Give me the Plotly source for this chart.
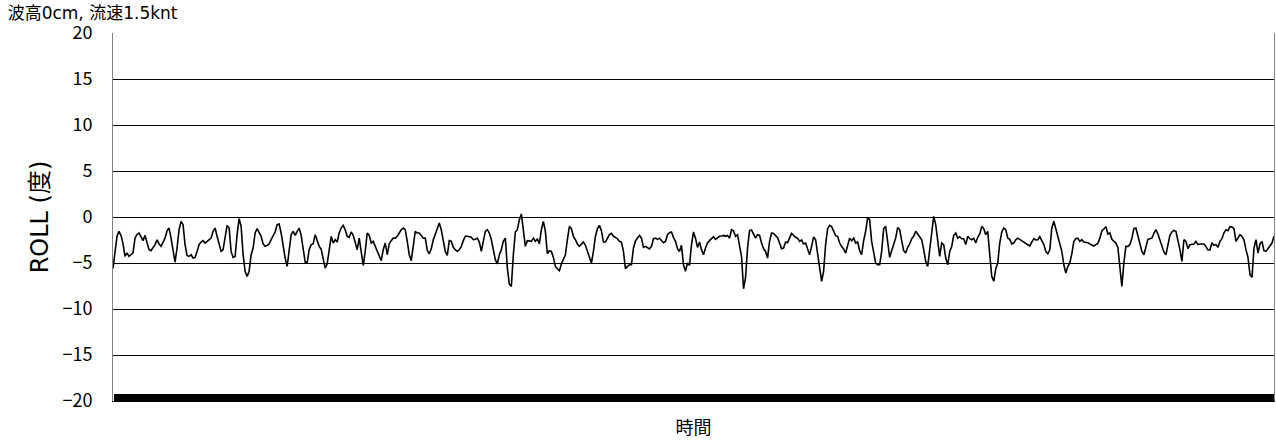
import plotly.graph_objects as go

title_text = "波高0cm, 流速1.5knt"
y_title = "ROLL (度)"
x_title = "時間"
y_tick_vals = [20, 15, 10, 5, 0, -5, -10, -15, -20]
y_tick_text = ["20", "15", "10", "5", "0", "−5", "−10", "−15", "−20"]

roll = [
    -5.6, -4.1, -2.1, -1.56, -2.0, -2.9, -4.28, -3.9, -4.28, -4.1,
    -3.9, -2.3, -1.9, -1.74, -2.1, -2.57, -2.0, -2.83, -3.55, -3.66,
    -3.37, -3.0, -2.47, -2.93, -3.19, -2.72, -2.3, -1.5, -1.2, -2.3,
    -3.9, -4.9, -3.37, -1.38, -0.47, -0.83, -3.0, -4.17, -4.28, -4.1,
    -4.46, -4.39, -3.74, -3.0, -2.72, -2.57, -2.83, -2.65, -2.57, -2.3,
    -1.56, -1.2, -2.1, -2.83, -3.74, -3.55, -1.92, -0.91, -1.2, -3.74,
    -4.39, -4.28, -1.92, -0.18, -1.0, -4.1, -5.9, -6.45, -5.9, -4.1,
    -3.37, -1.74, -1.27, -1.63, -2.1, -2.93, -3.19, -3.08, -2.93, -2.47,
    -2.1, -1.63, -0.83, -0.76, -1.74, -3.19, -4.46, -5.37, -3.74, -1.92,
    -1.56, -2.0, -1.56, -1.2, -2.0, -3.74, -4.9, -5.0, -3.55, -3.0,
    -2.93, -1.92, -2.57, -3.19, -3.5, -4.64, -5.55, -5.1, -3.37, -2.1,
    -2.83, -2.47, -2.72, -1.74, -1.2, -0.91, -1.38, -2.1, -2.21, -1.63,
    -2.0, -2.65, -3.55, -2.3, -3.74, -5.25, -3.74, -1.74, -2.0, -2.83,
    -2.65, -3.19, -3.55, -4.28, -4.75, -3.55, -2.83, -4.1, -2.93, -2.57,
    -2.3, -2.3, -2.1, -1.74, -1.38, -1.2, -1.38, -2.65, -4.1, -4.75,
    -3.37, -1.56, -1.74, -1.74, -2.0, -2.3, -2.3, -3.6, -4.0, -3.44,
    -2.47, -1.74, -1.27, -0.65, -1.38, -2.57, -3.74, -4.17, -2.57, -2.65,
    -3.3, -3.55, -3.74, -3.55, -3.19, -2.57, -2.1, -2.1, -2.14, -2.21,
    -2.47, -2.43, -2.3, -2.72, -3.74, -2.65, -1.56, -1.38, -1.74, -2.47,
    -3.55, -4.64, -5.1, -4.1, -3.55, -2.65, -2.3, -5.55, -7.29, -7.54,
    -4.1, -1.63, -1.38, -0.29, 0.33, -1.38, -3.19, -2.57, -2.57, -2.65,
    -2.3, -2.65, -2.36, -2.93, -1.38, -0.47, -1.56, -4.0, -3.66, -3.74,
    -4.39, -5.37, -5.62, -5.84, -5.1, -4.53, -4.1, -2.47, -1.02, -1.27,
    -2.1, -2.47, -2.93, -3.19, -3.0, -2.72, -3.08, -3.66, -4.46, -5.0,
    -3.74, -2.1, -1.27, -0.91, -1.49, -2.72, -2.72, -2.36, -1.92, -1.78,
    -2.1, -2.21, -2.36, -2.65, -2.72, -3.74, -5.62, -5.37, -5.19, -5.19,
    -3.37, -2.6, -2.3, -2.0, -2.3, -3.3, -3.19, -3.37, -3.48, -3.19,
    -2.36, -2.3, -2.43, -2.3, -2.57, -2.79, -2.65, -1.92, -1.71, -1.63,
    -2.21, -2.65, -3.44, -3.74, -3.08, -5.19, -5.9, -5.0, -5.25, -3.0,
    -1.63, -2.3, -3.3, -2.72, -3.55, -4.1, -3.37, -2.83, -2.57, -2.3,
    -2.14, -2.43, -2.3, -2.1, -2.07, -2.0, -2.1, -2.0, -2.3, -1.38,
    -1.49, -2.1, -1.92, -3.3, -4.3, -7.8, -6.6, -3.37, -1.49, -1.42,
    -1.85, -2.3, -1.92, -2.0, -2.83, -3.44, -3.74, -4.46, -2.65, -1.74,
    -1.78, -2.03, -2.25, -2.83, -3.44, -3.37, -2.72, -2.79, -2.3, -1.78,
    -2.0, -2.21, -2.3, -2.65, -2.5, -2.93, -2.83, -3.44, -4.1, -3.19,
    -2.17, -2.47, -3.92, -5.9, -6.99, -5.9, -3.0, -1.27, -0.91, -1.05,
    -1.56, -2.03, -2.1, -2.83, -3.22, -3.48, -3.92, -3.0, -2.3, -2.57,
    -2.3, -2.83, -2.72, -3.66, -4.1, -2.57, -1.56, -0.04, -0.29, -2.65,
    -3.66, -5.0, -5.19, -5.19, -3.74, -1.27, -1.02, -3.0, -4.39, -3.66,
    -2.93, -2.3, -1.13, -1.38, -2.57, -3.66, -3.92, -3.3, -2.93, -2.36,
    -2.1, -1.56, -1.85, -2.1, -2.47, -3.55, -4.82, -5.37, -3.37, -1.2,
    0.07, -0.83, -2.93, -4.28, -2.83, -3.0, -4.46, -5.19, -3.74, -3.2,
    -2.0, -1.74, -2.3, -2.14, -2.36, -2.36, -3.0, -2.1, -2.36, -2.47,
    -2.3, -2.83, -2.21, -1.85, -1.02, -1.27, -1.92, -1.56, -4.1, -6.45,
    -6.99, -5.62, -5.0, -2.83, -1.63, -1.2, -1.38, -2.3, -2.43, -2.93,
    -2.83, -2.47, -2.3, -2.43, -2.65, -2.72, -2.83, -3.0, -3.15, -2.72,
    -2.36, -2.5, -2.47, -2.14, -2.5, -3.0, -3.74, -4.0, -3.55, -1.2,
    -0.47, -1.27, -2.0, -3.08, -3.74, -5.19, -6.09, -5.37, -5.0, -4.0,
    -2.65, -2.36, -2.3, -2.65, -2.47, -2.72, -2.72, -2.79, -2.93, -3.0,
    -3.15, -3.0, -2.87, -2.3, -1.49, -1.31, -1.05, -1.85, -1.74, -2.43,
    -2.65, -2.83, -3.3, -5.9, -7.54, -5.0, -3.19, -3.19, -3.0, -2.3,
    -1.27, -1.2, -2.0, -2.93, -3.74, -4.1, -3.37, -2.43, -2.36, -2.3,
    -1.78, -1.38, -1.85, -2.57, -3.3, -3.8, -4.1, -3.19, -2.0, -1.63,
    -1.45, -1.56, -2.43, -3.55, -4.82, -2.47, -2.65, -3.44, -3.0, -3.0,
    -2.93, -2.65, -3.0, -2.93, -2.93, -2.93, -3.19, -3.59, -3.59, -2.79,
    -3.08, -3.0, -3.3, -2.65, -2.36, -1.71, -1.38, -1.49, -1.05, -1.09,
    -1.27, -2.65, -2.3, -1.92, -2.1, -2.5, -3.55, -4.39, -6.27, -6.56,
    -3.37, -2.47, -3.92, -2.93, -2.65, -3.66, -3.74, -3.44, -3.08, -2.83,
    -2.1,
]
sample = list(range(len(roll)))

font_family = "Noto Sans CJK JP, Noto Sans, sans-serif"
wide_family = "DejaVu Sans, Noto Sans CJK JP, sans-serif"

fig = go.Figure()
fig.add_trace(go.Scatter(
    x=sample, y=roll, mode="lines",
    line=dict(color="black", width=1.6),
    hoverinfo="skip", showlegend=False,
))

fig.update_layout(
    width=1276, height=448,
    margin=dict(l=113, r=2, t=33, b=47),
    paper_bgcolor="white", plot_bgcolor="white",
    font=dict(family=font_family, color="black"),
    title=dict(
        text=title_text, x=0.006, xanchor="left",
        y=0.971, yanchor="middle", yref="container",
        font=dict(size=17, family=wide_family, color="black"),
    ),
    xaxis=dict(
        range=[0, len(roll) - 1],
        showgrid=False, zeroline=False,
        showline=True, linecolor="black", linewidth=1,
        ticks="inside", tickmode="linear", tick0=0, dtick=1,
        ticklen=7, tickwidth=3, tickcolor="black",
        showticklabels=False,
        title=dict(text=x_title, font=dict(size=18), standoff=20),
    ),
    yaxis=dict(
        range=[-20, 20],
        tickmode="array", tickvals=y_tick_vals, ticktext=y_tick_text,
        showgrid=True, gridcolor="black", gridwidth=1,
        zeroline=False,
        showline=True, linecolor="#808080", linewidth=1, mirror=True,
        ticks="", ticklabelstandoff=16,
        tickfont=dict(size=18),
        title=dict(text=y_title, font=dict(size=24, family=wide_family), standoff=7),
    ),
)

fig.write_html("out.html")
